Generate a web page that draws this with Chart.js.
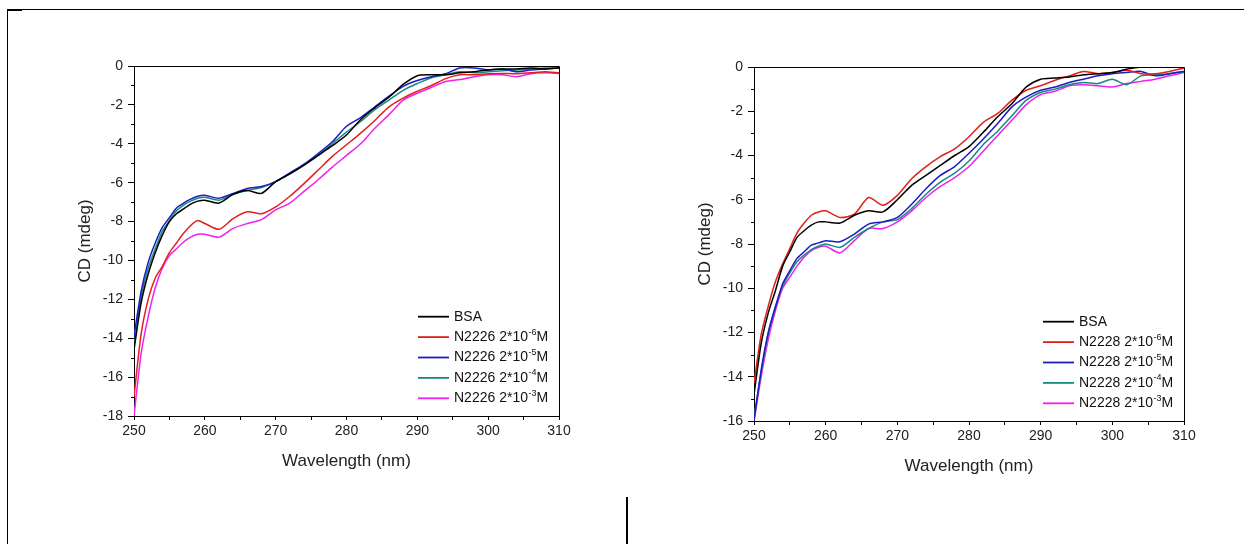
<!DOCTYPE html>
<html>
<head>
<meta charset="utf-8">
<script src="https://cdn.jsdelivr.net/npm/chart.js@4.4.1/dist/chart.umd.min.js"></script>
<style>
html, body { margin: 0; padding: 0; background: #fff; }
body { width: 1244px; height: 544px; position: relative; overflow: hidden; }
.wrap { position: absolute; top: 0; width: 622px; height: 544px; }
#frameTop { position: absolute; left: 7px; top: 9px; width: 1237px; height: 1px; background: #000; }
#frameLeft { position: absolute; left: 7px; top: 9px; width: 1px; height: 535px; background: #000; }
#corner { position: absolute; left: 7px; top: 9px; width: 15px; height: 2px; background: #000; }
#divider { position: absolute; left: 626px; top: 497px; width: 2px; height: 47px; background: #000; }
</style>
</head>
<body>
<div id="frameTop"></div>
<div id="frameLeft"></div>
<div id="corner"></div>
<div id="divider"></div>
<div class="wrap" style="left:0"><canvas id="leftChart" width="622" height="544"></canvas></div>
<div class="wrap" style="left:622px"><canvas id="rightChart" width="622" height="544"></canvas></div>
<script>
// wavelength grid (nm), same for both panels
const wavelengths = [250, 251, 252, 253, 254, 255, 256, 257, 258, 259, 260,
    262, 264, 266, 268, 270, 272, 274, 276, 278, 280, 282, 284, 286, 288,
    290, 292, 294, 296, 298, 300, 302, 304, 306, 308, 310];

const labelsLeft = ["BSA", "N2226 2*10^-6M", "N2226 2*10^-5M", "N2226 2*10^-4M", "N2226 2*10^-3M"];
const labelsRight = ["BSA", "N2228 2*10^-6M", "N2228 2*10^-5M", "N2228 2*10^-4M", "N2228 2*10^-3M"];
const lineColors = ["#000000", "#e0201c", "#1c1cc0", "#178a80", "#ee22ee"];

// left panel (N2226), CD in mdeg
const bsaLeft = [-14.6, -12.2, -10.7, -9.6, -8.7, -8.0, -7.6, -7.35, -7.1, -6.95, -6.9,
    -7.05, -6.6, -6.4, -6.55, -5.95, -5.55, -5.1, -4.6, -4.1, -3.55, -2.75, -2.15, -1.6, -0.95,
    -0.5, -0.45, -0.45, -0.35, -0.3, -0.2, -0.15, -0.15, -0.1, -0.15, -0.1];
const e6Left = [-17.0, -13.8, -12.0, -10.9, -10.3, -9.6, -9.1, -8.6, -8.2, -7.95, -8.1,
    -8.4, -7.85, -7.5, -7.6, -7.25, -6.7, -6.05, -5.35, -4.65, -4.05, -3.45, -2.8, -2.1, -1.65,
    -1.3, -1.0, -0.65, -0.45, -0.45, -0.4, -0.38, -0.4, -0.35, -0.3, -0.35];
const e5Left = [-13.9, -11.6, -10.1, -9.1, -8.3, -7.8, -7.3, -7.05, -6.85, -6.7, -6.65,
    -6.8, -6.55, -6.3, -6.2, -5.95, -5.5, -5.05, -4.5, -3.9, -3.1, -2.65, -2.1, -1.55, -1.05,
    -0.75, -0.55, -0.4, -0.1, -0.1, -0.2, -0.15, -0.3, -0.2, -0.15, -0.1];
const e4Left = [-14.4, -11.9, -10.4, -9.4, -8.5, -7.95, -7.45, -7.15, -6.95, -6.8, -6.75,
    -6.9, -6.6, -6.4, -6.25, -5.95, -5.55, -5.1, -4.6, -4.0, -3.4, -2.85, -2.25, -1.75, -1.25,
    -0.9, -0.6, -0.45, -0.3, -0.35, -0.3, -0.25, -0.2, -0.15, -0.1, -0.1];
const e3Left = [-18.0, -14.8, -12.9, -11.4, -10.4, -9.75, -9.4, -9.05, -8.8, -8.65, -8.65,
    -8.8, -8.35, -8.1, -7.9, -7.4, -7.05, -6.45, -5.85, -5.2, -4.6, -4.0, -3.2, -2.5, -1.75,
    -1.4, -1.1, -0.8, -0.7, -0.55, -0.45, -0.45, -0.55, -0.4, -0.35, -0.38];

// right panel (N2228)
const bsaRight = [-14.8, -12.5, -11.1, -10.1, -9.0, -8.35, -7.7, -7.4, -7.15, -7.0, -7.0,
    -7.05, -6.7, -6.5, -6.55, -6.0, -5.35, -4.9, -4.45, -4.0, -3.6, -2.95, -2.25, -1.65, -0.9,
    -0.55, -0.5, -0.45, -0.35, -0.3, -0.25, -0.1, 0, 0.1, 0.2, 0.3];
const e6Right = [-14.3, -12.1, -10.8, -9.7, -8.9, -8.2, -7.5, -7.05, -6.7, -6.55, -6.5,
    -6.8, -6.65, -5.9, -6.25, -5.8, -5.05, -4.5, -4.05, -3.7, -3.15, -2.5, -2.1, -1.5, -1.05,
    -0.85, -0.6, -0.4, -0.2, -0.3, -0.25, -0.15, -0.3, -0.3, -0.2, -0.05];
const e5Right = [-16.0, -13.7, -12.0, -10.85, -9.8, -9.2, -8.65, -8.35, -8.05, -7.95, -7.85,
    -7.9, -7.55, -7.1, -7.0, -6.8, -6.2, -5.5, -4.9, -4.5, -3.9, -3.25, -2.55, -1.8, -1.35,
    -1.05, -0.9, -0.7, -0.55, -0.4, -0.3, -0.25, -0.2, -0.4, -0.3, -0.2];
const e4Right = [-15.8, -13.8, -12.0, -10.8, -9.9, -9.3, -8.8, -8.5, -8.25, -8.1, -8.0,
    -8.15, -7.7, -7.3, -7.0, -6.9, -6.4, -5.75, -5.2, -4.8, -4.25, -3.5, -2.9, -2.2, -1.5,
    -1.15, -1.0, -0.8, -0.7, -0.75, -0.55, -0.8, -0.4, -0.35, -0.3, -0.2];
const e3Right = [-16.0, -14.0, -12.3, -11.0, -10.0, -9.5, -9.0, -8.6, -8.3, -8.15, -8.1,
    -8.4, -7.85, -7.3, -7.3, -7.0, -6.5, -5.9, -5.4, -5.0, -4.5, -3.8, -3.1, -2.4, -1.7,
    -1.25, -1.1, -0.85, -0.8, -0.85, -0.9, -0.75, -0.65, -0.55, -0.4, -0.25];

const FONT = '"Liberation Sans", Arial, sans-serif';
Chart.defaults.font.family = FONT;
Chart.defaults.color = "#222";

// box on top/right of plot, minor y ticks, legend inside the plot
const insideLegend = {
    id: "insideLegend",
    afterDraw(chart) {
        const { ctx, chartArea } = chart;
        const yScale = chart.scales.y;
        ctx.save();
        ctx.strokeStyle = "#000";
        ctx.lineWidth = 1;
        ctx.beginPath();
        ctx.moveTo(chartArea.left, chartArea.top + 0.5);
        ctx.lineTo(chartArea.right + 0.5, chartArea.top + 0.5);
        ctx.lineTo(chartArea.right + 0.5, chartArea.bottom);
        // minor ticks on the y axis (odd values)
        for (let v = yScale.min + 1; v < yScale.max; v += 2) {
            const py = Math.round(yScale.getPixelForValue(v)) + 0.5;
            ctx.moveTo(chartArea.left - 3, py);
            ctx.lineTo(chartArea.left, py);
        }
        ctx.stroke();

        chart.data.datasets.forEach((ds, i) => {
            const y = chartArea.bottom - 99.3 + i * 20.4;
            const x0 = chartArea.right - 141;
            ctx.strokeStyle = ds.borderColor;
            ctx.lineWidth = 1.8;
            ctx.beginPath();
            ctx.moveTo(x0, y);
            ctx.lineTo(x0 + 31, y);
            ctx.stroke();

            ctx.fillStyle = "#111";
            ctx.textBaseline = "middle";
            ctx.textAlign = "left";
            ctx.font = "14px " + FONT;
            let tx = x0 + 36;
            const m = ds.label.match(/^(.*)\^(-?\d+)(.*)$/);
            if (!m) {
                ctx.fillText(ds.label, tx, y);
            } else {
                ctx.fillText(m[1], tx, y);
                tx += ctx.measureText(m[1]).width + 0.5;
                ctx.font = "9px " + FONT;
                ctx.fillText(m[2], tx, y - 5);
                tx += ctx.measureText(m[2]).width;
                ctx.font = "14px " + FONT;
                ctx.fillText(m[3], tx, y);
            }
        });
        ctx.restore();
    },
};

function buildDatasets(labels, series) {
    return series.map((values, i) => ({
        label: labels[i],
        data: values.map((v, j) => ({ x: wavelengths[j], y: v })),
        borderColor: lineColors[i],
        borderWidth: 1.5,
        pointRadius: 0,
        tension: 0.25,
        fill: false,
    }));
}

function makeChart(id, labels, series, yMin, pad) {
    const ctx = document.getElementById(id).getContext("2d");
    return new Chart(ctx, {
        type: "line",
        data: { datasets: buildDatasets(labels, series) },
        options: {
            responsive: false,
            animation: false,
            layout: { autoPadding: false, padding: pad },
            plugins: { legend: { display: false }, tooltip: { enabled: false } },
            scales: {
                x: {
                    type: "linear",
                    min: 250,
                    max: 310,
                    afterFit: (s) => { s.height = 56; },
                    border: { color: "#000", width: 1 },
                    grid: { drawOnChartArea: false, tickLength: 4, color: "#000" },
                    ticks: {
                        stepSize: 5,
                        autoSkip: false,
                        maxRotation: 0,
                        padding: 3,
                        font: { size: 14 },
                        color: "#222",
                        callback: (v) => (v % 10 === 0 ? v : ""),
                    },
                    title: {
                        display: true,
                        text: "Wavelength (nm)",
                        font: { size: 17 },
                        color: "#222",
                        padding: { top: 0, bottom: 0 },
                    },
                },
                y: {
                    min: yMin,
                    max: 0,
                    afterFit: (s) => { s.width = 60; },
                    border: { color: "#000", width: 1 },
                    grid: { drawOnChartArea: false, tickLength: 6, color: "#000" },
                    ticks: {
                        stepSize: 2,
                        autoSkip: false,
                        padding: 5,
                        font: { size: 14 },
                        color: "#222",
                    },
                    title: {
                        display: true,
                        text: "CD (mdeg)",
                        font: { size: 17 },
                        color: "#222",
                        padding: { top: 1, bottom: 0 },
                    },
                },
            },
        },
        plugins: [insideLegend],
    });
}

makeChart("leftChart", labelsLeft, [bsaLeft, e6Left, e5Left, e4Left, e3Left], -18,
    { left: 74, top: 66, right: 63, bottom: 72 });
makeChart("rightChart", labelsRight, [bsaRight, e6Right, e5Right, e4Right, e3Right], -16,
    { left: 72, top: 67, right: 60, bottom: 67 });
</script>
</body>
</html>
